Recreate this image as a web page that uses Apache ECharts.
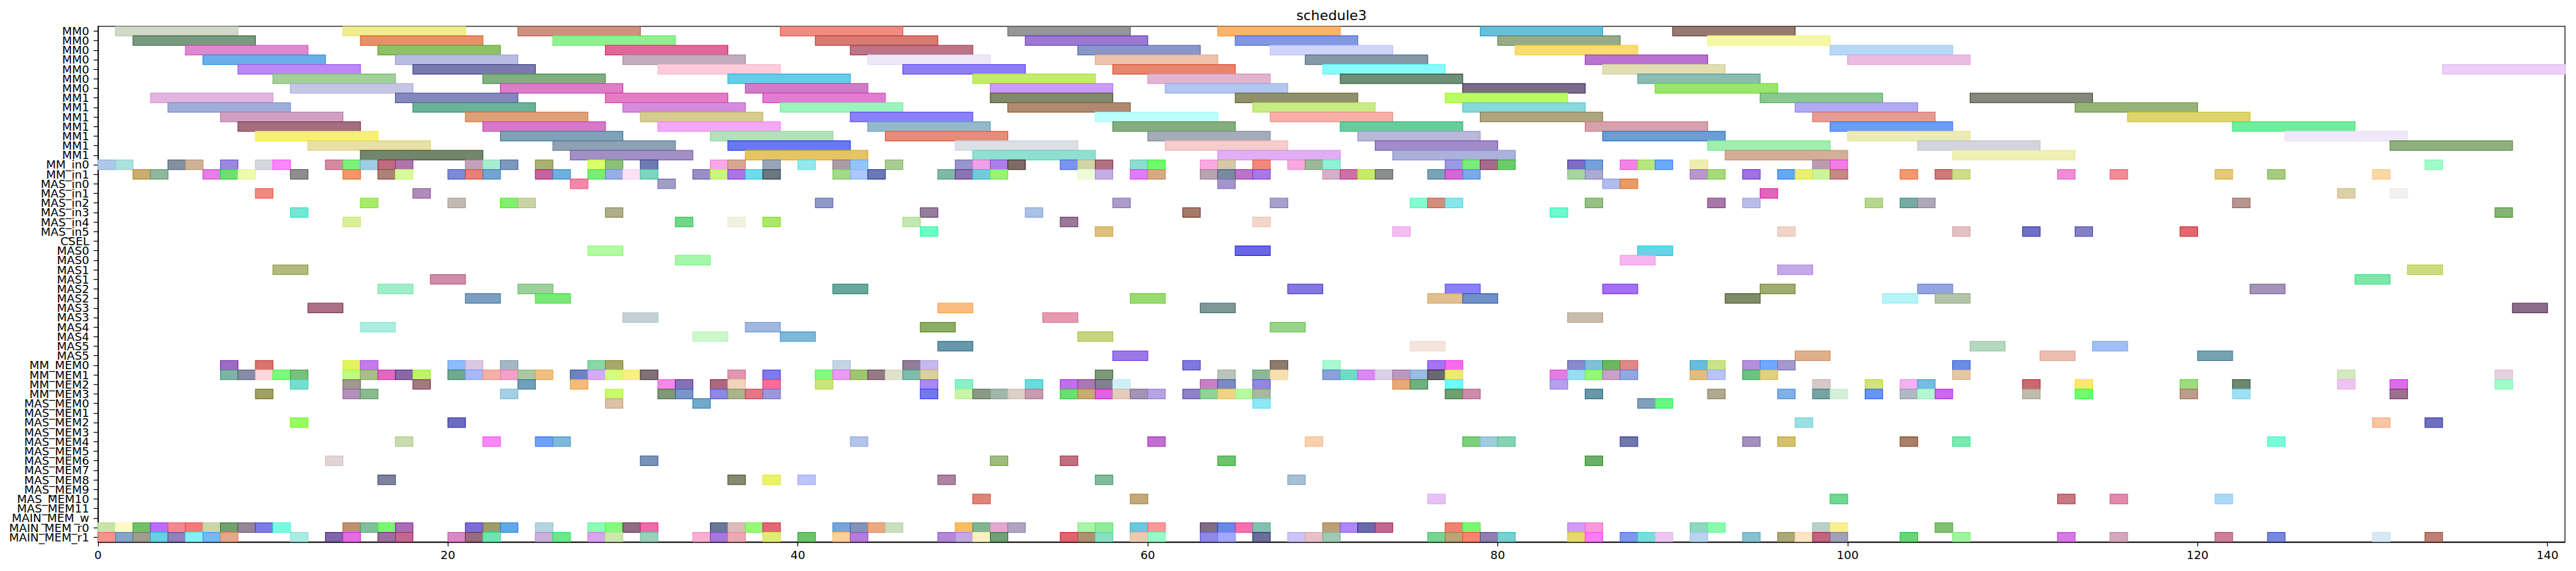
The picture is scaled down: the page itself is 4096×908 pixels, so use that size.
<!DOCTYPE html>
<html>
<head>
<meta charset="utf-8">
<script src="https://cdn.jsdelivr.net/npm/echarts@6/dist/echarts.min.js"></script>
<style>html,body{margin:0;padding:0;background:#fff;}#chart{width:4096px;height:908px;}</style>
</head>
<body>
<div id="chart"></div>
<script>
// ---------------- data ----------------
const chartTitle = 'schedule3';
const categories = ['MM0','MM0','MM0','MM0','MM0','MM0','MM0','MM1','MM1','MM1','MM1','MM1','MM1','MM1',
  'MM_in0','MM_in1','MAS_in0','MAS_in1','MAS_in2','MAS_in3','MAS_in4','MAS_in5','CSEL',
  'MAS0','MAS0','MAS1','MAS1','MAS2','MAS2','MAS3','MAS3','MAS4','MAS4','MAS5','MAS5',
  'MM_MEM0','MM_MEM1','MM_MEM2','MM_MEM3',
  'MAS_MEM0','MAS_MEM1','MAS_MEM2','MAS_MEM3','MAS_MEM4','MAS_MEM5','MAS_MEM6','MAS_MEM7','MAS_MEM8','MAS_MEM9','MAS_MEM10','MAS_MEM11',
  'MAIN_MEM_w','MAIN_MEM_r0','MAIN_MEM_r1'];
const xTickValues = [0, 20, 40, 60, 80, 100, 120, 140];
const xMin = 0, xMax = 141;

// task lengths per group
const mmLength = 7, inLength = 1, cselLength = 1, masLength = 2, memLength = 1, mainLength = 1;

// MM0 x7, MM1 x7
const mmStarts = [
  [1,14,24,39,52,64,79,90],
  [2,15,26,41,53,65,80,92],
  [5,16,29,43,56,67,81,99],
  [6,17,30,44,57,69,85,100],
  [8,18,32,46,58,70,86,134],
  [10,22,36,50,60,71,88],
  [11,23,37,51,61,78,89],
  [3,17,29,38,51,65,77,95,107],
  [4,18,30,39,52,66,78,97,113],
  [7,21,31,43,57,67,79,98,116],
  [8,22,32,44,58,71,85,99,122],
  [9,23,35,45,60,72,86,100,125],
  [12,26,36,49,61,73,92,104,131],
  [15,27,37,50,64,74,93,106]
];
const mmColors = [
  ['#d0d8c8','#eeee90','#d09080','#f08c80','#949698','#fcb46c','#66c0dc','#967a72'],
  ['#7a9a80','#e8906a','#90f090','#d87a72','#9a78d4','#8098e0','#96ac88','#f6f8a8'],
  ['#de88d0','#8ec068','#e06898','#bc7486','#8896c8','#d0d4fc','#fadc70','#b8d8f8'],
  ['#6aaeea','#b8bce0','#c0acbc','#ebe6f8','#eec2ac','#8298a8','#ba72d0','#ecbce4'],
  ['#bc88f4','#7a7aae','#fcccdc','#8e7ef6','#e6846c','#88fafa','#e2deb4','#ecd0f8'],
  ['#a2d098','#80b080','#68cce8','#c4ec6c','#e2b4d0','#6e8e78','#8abcb4'],
  ['#c4c6e4','#de7cc8','#ce7cc6','#cc9cfc','#b2c6f0','#7a6a8c','#9ae66c'],
  ['#e2b4e0','#8488bc','#e47cc4','#e27cd2','#828a6e','#90906a','#bafc64','#8ac890','#84877a'],
  ['#9eaed8','#6ab298','#d68cdc','#9cf4bc','#b08a70','#c8ec84','#86dadc','#b0aaf4','#96b478'],
  ['#d0a0c4','#dea078','#d4cc90','#8a80fc','#bcfefa','#f6b0a8','#aea480','#e69a94','#dcd46c'],
  ['#a46e80','#d878c8','#f4a8f4','#92bacc','#84ae7e','#68cc9c','#d8a0ac','#6c9cf8','#70ee9c'],
  ['#f6f270','#7ea2b8','#b2e2bc','#e68c78','#a4acb8','#b8b8d8','#6a9ed4','#ecebb4','#f0e8fa'],
  ['#e8e0a4','#8ea2b4','#6a78f6','#dbdfe6','#f6cccc','#a28ccc','#a0eeb0','#d4d4de','#8eb07e'],
  ['#72866c','#a090c4','#e6c464','#8ee0d0','#e2aef4','#aab2dc','#d4ae98','#f0f0b4']
];

// MM_in0, MM_in1, MAS_in0..MAS_in5
const inStarts = [
  [0,1,4,5,7,9,10,13,14,15,16,17,21,22,23,25,28,29,31,35,36,38,40,42,43,45,49,50,51,52,55,56,57,59,60,63,64,66,68,69,70,77,78,79,80,84,85,87,88,89,91,98,99,133],
  [2,3,6,7,8,11,14,16,17,20,21,22,25,26,28,29,30,31,34,35,36,37,38,42,43,44,48,49,50,51,56,57,59,60,63,64,65,66,70,71,72,73,76,77,78,84,85,91,92,94,96,97,98,99,103,105,106,112,115,121,124,130],
  [27,32,64,86,87],
  [9,18,95,128,131],
  [15,20,23,24,41,58,67,75,76,77,85,92,94,101,103,104,122],
  [11,29,47,53,62,83,137],
  [14,33,36,38,46,55,66],
  [47,57,74,96,106,110,113,119]
];
const inColors = [
  ['#aec8e8','#ace0dc','#8290a0','#cfb296','#9888e0','#d4d6dc','#fe86fe','#d48aa0','#7cf07c','#a0cce0','#bc6c7c','#b076a8','#c2a2b8','#a8ecd0','#7e98bc','#aab070','#d8fe6a','#8cc07c','#6e7ab0','#f8a8e8','#d6a894','#98a6b8','#92e8ec','#aa9ca4','#94c4fc','#a8cc94','#9894cc','#f0a0e8','#ac80ec','#806a68','#7a94f0','#d0d4a8','#b07080','#8cdcd0','#6cfc6c','#fca8e4','#d4c8a8','#f4887c','#f8a8e0','#9cb898','#90f0d8','#9a9ae0','#7aec7a','#a46c8a','#6ccc6c','#7c6cc4','#74a0dc','#f084e4','#b6e680','#6ea8fc','#eeeeb0','#bc9cac','#f07ce4','#a0fac8'],
  ['#ccac70','#8eb8a0','#e67ee6','#6ce06e','#eefab0','#8e8e8e','#f09868','#ac8278','#d8fa9a','#7e8ad4','#ea8078','#74a4d4','#c8649c','#70b0dc','#78ee78','#98aee8','#fce0f4','#7ed4c0','#9a8ec8','#ccf67c','#ac74e8','#6cdce8','#6a7880','#a2da88','#aac8fe','#6a78b8','#80b8a8','#8a74b4','#70ccdc','#98f278','#eefcd8','#c2aee4','#e07cf8','#d8aa84','#b8a4b0','#7a8aa0','#bc74c8','#a878e8','#d4b0c8','#d070a8','#c4ec68','#8c8e8e','#7aa4b8','#d468d4','#7aaaec','#a6d6a0','#aaaad4','#b898cc','#a6da7a','#a070e4','#66a8f8','#ecf070','#ccf49c','#c88888','#f49870','#cc7a7a','#d0dc8c','#ee8ed8','#f48c98','#e6c878','#a6cc80','#fcd8a4'],
  ['#f488a8','#a09ec4','#a496cc','#b0bcec','#e89c68'],
  ['#f48880','#b08cb8','#e464bc','#ddd0a8','#f4f0ee'],
  ['#a8ec6c','#c2bab0','#80f070','#c8d4a4','#9098cc','#ac9cc8','#a8a0cc','#84fcd0','#d48c7c','#86e6ec','#96c084','#a878a8','#bcbcec','#b8d890','#78aaa4','#aea8b8','#b69490'],
  ['#72e8d4','#aeae88','#947e9c','#aac0e4','#a47a6a','#6cf8d0','#84b474'],
  ['#daf098','#70d888','#f2f0e0','#ace866','#c2e8b0','#9a7898','#f2d6c8'],
  ['#6cfcc4','#e0c07c','#f4bcf0','#f0d4c8','#e2c0c4','#7070c4','#8480c4','#de6a6e']
];

// CSEL
const cselStarts = [];
const cselColors = [];

// MAS0, MAS0, MAS1, MAS1, ... MAS5, MAS5
const masStarts = [
  [28,65,88],
  [33,87],
  [10,96,132],
  [19,129],
  [16,24,42,68,77,86,95,104,123],
  [21,25,59,76,78,93,102,105],
  [12,48,63,138],
  [30,54,84],
  [15,37,47,67],
  [34,39,56],
  [48,75,107,114],
  [58,97,111,120]
];
const masColors = [
  ['#b2fca2','#6a66e6','#66d4e8'],
  ['#a2f8a8','#f6b6f0'],
  ['#b2b87e','#c4a8e8','#ccdc7c'],
  ['#d08ca8','#7ae8a8'],
  ['#a0eec8','#9cd09c','#6aa89c','#8478e0','#8a80fc','#a470f4','#a0ac70','#94a4e0','#a494b8'],
  ['#7aa0c0','#78e878','#98dc70','#e0c090','#7090c8','#808c68','#b4f4f8','#b4c4a8'],
  ['#aa7086','#fcbc80','#7e9898','#8a6c8a'],
  ['#c4d2d6','#e49ab0','#c8bcac'],
  ['#aaeee0','#a0b8e0','#8cae64','#98d488'],
  ['#ccf8cc','#80b8d8','#c8d480'],
  ['#6898ac','#f4e4dc','#b4d8c0','#a0c0f4'],
  ['#9c78e8','#dfb08c','#ecbcb0','#74a4b0']
];

// MM_MEM0..3, MAS_MEM0..11
const memStarts = [
  [7,9,14,15,20,21,23,28,29,42,46,47,62,67,70,76,77,84,85,86,87,91,92,94,95,96,106],
  [7,8,9,10,11,14,15,16,17,18,20,21,22,23,24,25,27,28,29,30,31,36,38,41,42,43,44,45,46,47,57,64,66,67,70,71,72,73,74,75,76,77,83,84,85,86,87,91,92,94,95,106,128,137],
  [11,14,18,24,27,32,33,35,36,38,41,47,49,53,55,56,57,58,63,64,66,74,75,77,83,98,101,103,104,110,113,119,122,128,131,137],
  [9,14,15,23,29,32,33,35,36,37,38,47,49,50,51,52,53,55,56,57,58,59,60,62,63,64,65,66,77,78,85,92,96,98,99,101,103,104,105,110,113,119,122,131],
  [29,34,66,88,89],
  [],
  [11,20,97,130,133],
  [],
  [17,22,25,26,43,60,69,78,79,80,87,94,96,103,106,124],
  [],
  [13,31,51,55,64,85],
  [],
  [16,36,38,40,48,57,68],
  [],
  [50,59,76,99,112,115,121],
  []
];
const memColors = [
  ['#9c6cc4','#d8746c','#e4f460','#c47cec','#8cbcfc','#d8c8e0','#a4b8c4','#88d8a8','#a8a86c','#c4d4e4','#927c98','#c8b8ec','#8078e0','#8c7c6c','#a8f8d0','#a474f4','#f46cec','#8888cc','#80c0d8','#6cb860','#e08888','#68bcdc','#c8e488','#b490dc','#70a8fc','#a498cc','#6a8ce4'],
  ['#7eb4a4','#888ca4','#fcd8dc','#7cf87c','#78c07c','#c0fc7c','#a8c088','#e068c0','#8868a8','#bcf46c','#70a890','#a8b8fc','#f4b0a4','#f4a0c8','#acc8a0','#f0c080','#6a84c0','#d4acf8','#d8fc80','#f8f080','#807078','#e098b0','#8078ec','#80fc80','#ec98f4','#a0c470','#947c84','#e0e0cc','#7cbcac','#d8d0a0','#7c9a78','#b8c4bc','#8cb898','#f6e0b0','#88a0dc','#70dcc8','#dc88f4','#dcd0e8','#bc98c0','#98bce4','#6c6870','#e8ec74','#e47ce4','#98dcf4','#94f878','#c8a0c8','#90a8e0','#e4bc80','#b8c4f8','#68c480','#e0d080','#e4c8a4','#d4e8c4','#e8d0e0'],
  ['#74e0cc','#a09890','#a47880','#70a0bc','#f4bc78','#f888ec','#8870b8','#b06880','#f0d4bc','#fc6c98','#cce47c','#a888f4','#8af0c8','#6adcdc','#c46cf0','#a878b4','#808090','#d0f0f8','#c880c4','#7a8cc0','#9088e0','#e8a878','#70b080','#6cfcfc','#b4a0ec','#d8c8c8','#d4e474','#f4b0f4','#74bce4','#cc6870','#fce870','#9cdc7c','#6e8870','#f0c4f0','#dc6cec','#a0fcc8'],
  ['#a0a064','#b490bc','#8aba8e','#a4d0e4','#c8fc70','#809878','#7894c8','#8c88e4','#acb48c','#e07888','#9c98dc','#7478f0','#c8f4a8','#8a9a84','#a0b8ac','#dcd0c8','#c89cb0','#6ade6e','#c8aa74','#e060e0','#e4ccbc','#a494b4','#b4a4e0','#9080c8','#90d498','#f0d488','#b8f8a0','#a8b8a0','#70a070','#cc8cac','#6898a8','#b0a890','#80b0e8','#74a4a4','#d4f0d8','#6894fc','#b0b8c4','#b4f8d0','#cc68ec','#c0bcac','#70fc70','#bc9c8c','#a0e0f4','#9c7090'],
  ['#dcc0a8','#70aac8','#8ce8f4','#80a0bc','#68f880'],
  [],
  ['#98fc60','#6c6cc0','#98e0e4','#f8c4a4','#7070c0'],
  [],
  ['#c8dcb0','#f888f8','#70a0fc','#80b8d8','#b4c4e8','#c070d0','#f8d0b0','#7cd07c','#a0ccdc','#84d4b4','#7078ac','#a490bc','#d4c070','#a88068','#78ecb0','#78fcd8'],
  [],
  ['#e2d4d4','#7892b8','#a0bc80','#c07080','#6cc46c','#6cb068'],
  [],
  ['#7e829a','#888870','#eaf070','#bcc4fc','#ac84a0','#80bc9c','#a8c0d4'],
  [],
  ['#e08478','#c4a878','#e8c0f8','#6cd890','#c87880','#e488ac','#acd8f8'],
  []
];

// MAIN_MEM_w, MAIN_MEM_r0, MAIN_MEM_r1
const mainStarts = [
  [],
  [0,1,2,3,4,5,6,7,8,9,10,14,15,16,17,21,22,23,25,28,29,30,31,35,36,37,38,42,43,44,45,49,50,51,52,56,57,59,60,63,64,65,66,70,71,72,73,77,78,84,85,91,92,98,99,105],
  [0,1,2,3,4,5,6,7,11,13,14,16,17,20,21,22,25,26,28,29,31,34,35,36,38,40,42,43,48,49,50,51,55,56,57,59,60,63,64,66,68,69,70,76,77,78,79,80,84,85,87,88,89,91,94,96,97,98,99,103,106,112,115,121,124,130,133]
];
const mainColors = [
  [],
  ['#c8e4a8','#fefac8','#74c068','#bc6cfc','#f48890','#f47c78','#cad8a8','#70a070','#968498','#7c7ce4','#78fce0','#c09070','#80c09c','#78f870','#a86cb8','#7c6cd8','#9c9c6c','#62a8e8','#b4d4e0','#8cfcb8','#84fc7c','#906c80','#ec6ca8','#6a7898','#dcbcb8','#98f878','#e06878','#78a4dc','#8294b8','#eca880','#c8e0c0','#f8bc64','#80b490','#e4a8d0','#b0a4c0','#a8f4a8','#90ec98','#68c8dc','#f89898','#806c88','#6888e8','#f470b0','#84c0b0','#bca074','#ac88f8','#6a6aac','#c06890','#ec8470','#78f870','#d09cf8','#f898dc','#8cd8c0','#88fcac','#b8d0c8','#f8f090','#80c070'],
  ['#f4948c','#84a4cc','#a09c90','#68d0e0','#9080bc','#88f0f4','#74b8f4','#e4a888','#a8ece4','#8066a8','#e46ce0','#9c6ca0','#c06890','#dc88c4','#986c80','#70e4b0','#c8b0d8','#6ce88c','#d8a4f0','#cce8b0','#98d0b8','#f8b0d0','#a878dc','#ecaab4','#e0ec78','#6cc46c','#fcd098','#b47cdc','#b488d4','#c4a8e4','#f8f0c0','#70a078','#e06470','#b09070','#88e0c0','#eccab0','#98f8c8','#9088e8','#a4a8fc','#6a6e98','#ccc4f4','#e8c0c8','#a0c8b4','#78d490','#bca478','#f88470','#9080b0','#78d0d0','#e4d870','#fc7cf8','#7c98ec','#74e0dc','#ecc8f0','#b8d4f0','#88c0d0','#aca878','#fce4c4','#c06480','#a0a0b8','#68d478','#a0f4a0','#d878e4','#d4a8bc','#cc8098','#7888dc','#d8e8f4','#bc8074']
];

// ---------------- build ----------------
const S = 0.666;
const barData = [];
const barColors = [];
function addGroup(startRows, colorRows, rowOffset, len) {
  startRows.forEach(function (starts, r) {
    starts.forEach(function (s, k) {
      barData.push([s, rowOffset + r, len]);
      barColors.push(colorRows[r][k]);
    });
  });
}
addGroup(mmStarts, mmColors, 0, mmLength);
addGroup(inStarts, inColors, 14, inLength);
addGroup([cselStarts], [cselColors], 22, cselLength);
addGroup(masStarts, masColors, 23, masLength);
addGroup(memStarts, memColors, 35, memLength);
addGroup(mainStarts, mainColors, 51, mainLength);

function edgeOf(hex) {
  const n = parseInt(hex.slice(1), 16);
  const c = [(n >> 16) & 255, (n >> 8) & 255, n & 255].map(function (v) {
    return Math.max(0, Math.round(255 - 1.4 * (255 - v)));
  });
  return 'rgb(' + c.join(',') + ')';
}

const FONT = 'DejaVu Sans';
const gridLeft = 155.8, gridTop = 41.8, gridRight = 4096 - 4078.5, gridBottom = 908 - 861.8;

const chart = echarts.init(document.getElementById('chart'), null, {renderer: 'svg'});
chart.setOption({
  animation: false,
  backgroundColor: '#ffffff',
  graphic: [{
    type: 'text',
    x: (gridLeft + 4078.5) / 2,
    y: 35.5,
    style: {text: chartTitle, font: '21.9px "DejaVu Sans"', fill: '#000', textAlign: 'center', textVerticalAlign: 'bottom'}
  }],
  grid: {left: gridLeft, top: gridTop, right: gridRight, bottom: gridBottom, show: true, borderColor: '#000', borderWidth: 1.3, backgroundColor: 'transparent'},
  xAxis: {
    type: 'value', min: xMin, max: xMax, interval: 20,
    splitLine: {show: false},
    axisLine: {show: true, lineStyle: {color: '#000', width: 1.3}},
    axisTick: {show: true, customValues: xTickValues, length: 7, lineStyle: {color: '#000', width: 1.3}},
    axisLabel: {customValues: xTickValues, fontFamily: FONT, fontSize: 18.3, color: '#000', margin: 12}
  },
  yAxis: {
    type: 'category', data: categories, inverse: true,
    axisLine: {show: true, lineStyle: {color: '#000', width: 1.3}},
    axisTick: {show: true, alignWithLabel: true, interval: 0, length: 7, lineStyle: {color: '#000', width: 1.3}},
    axisLabel: {interval: 0, fontFamily: FONT, fontSize: 18.2, color: '#000', margin: 14},
    splitLine: {show: false}
  },
  series: [{
    type: 'custom',
    data: barData,
    encode: {x: [0, 2], y: 1},
    clip: true,
    renderItem: function (params, api) {
      const s = api.value(0), row = api.value(1), len = api.value(2);
      const p0 = api.coord([s, row]);
      const p1 = api.coord([s + len, row]);
      const h = api.size([0, 1])[1];
      const col = barColors[params.dataIndex];
      return {
        type: 'rect',
        shape: {x: p0[0], y: p0[1] - h / 2, width: p1[0] - p0[0], height: h},
        style: {fill: col, stroke: edgeOf(col), lineWidth: 1.3}
      };
    }
  }]
});
</script>
</body>
</html>
